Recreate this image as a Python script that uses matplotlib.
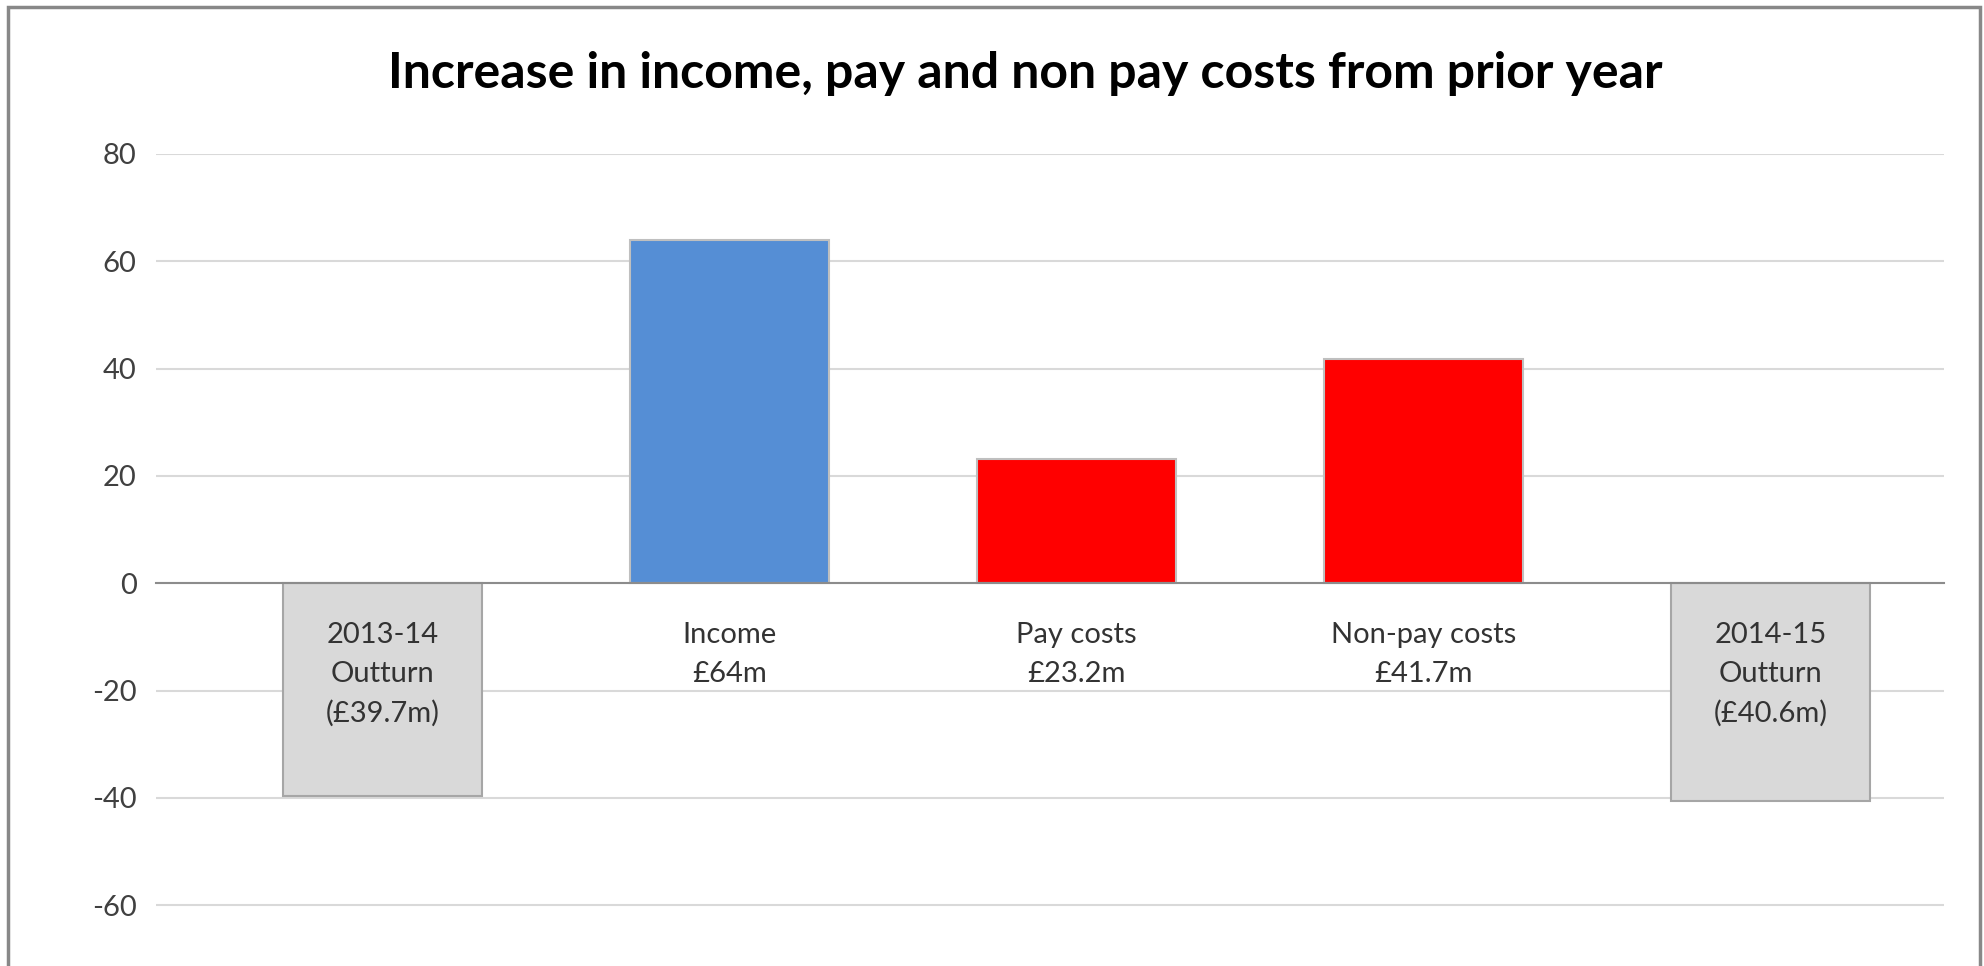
import matplotlib.pyplot as plt
from matplotlib.patches import Rectangle

# values (GBP millions)
categorias = ["2013-14\nOutturn\n(£39.7m)", "Income\n£64m", "Pay costs\n£23.2m",
              "Non-pay costs\n£41.7m", "2014-15\nOutturn\n(£40.6m)"]
valores = [-39.7, 64, 23.2, 41.7, -40.6]
cores = ["#d9d9d9", "#558ed5", "#ff0000", "#ff0000", "#d9d9d9"]
bordas = ["#a6a6a6", "#bfbfbf", "#bfbfbf", "#bfbfbf", "#a6a6a6"]
y_ticks = [-60, -40, -20, 0, 20, 40, 60, 80]

TITULO = "Increase in income, pay and non pay costs from prior year"
FONTE = ["Lato", "DejaVu Sans"]

plt.rcParams["font.family"] = FONTE
plt.rcParams["axes.unicode_minus"] = False

fig = plt.figure(figsize=(19.84, 9.66), dpi=100)
ax = fig.add_axes([156 / 1984, 0.0, (1944 - 156) / 1984, 1 - 154 / 966])

x = list(range(len(valores)))
ax.bar(x, valores, width=0.573, color=cores, edgecolor=bordas, linewidth=1.5, zorder=2)

ax.set_ylim(-71.35, 80)
ax.set_xlim(-0.654, 4.5)
ax.set_yticks(y_ticks)
ax.tick_params(axis="y", length=0, pad=14, labelsize=21, labelcolor="#404040")

ax.grid(axis="y", color="#d9d9d9", linewidth=1.5, zorder=0)
ax.set_axisbelow(True)

for lado in ["top", "right", "left"]:
    ax.spines[lado].set_visible(False)
ax.spines["bottom"].set_position(("data", 0))
ax.spines["bottom"].set_color("#8c8c8c")
ax.spines["bottom"].set_linewidth(1.5)
ax.spines["bottom"].set_zorder(3)

ax.set_xticks(x)
ax.set_xticklabels(categorias, fontsize=21, color="#333333", linespacing=1.6,
                   multialignment="center")
ax.tick_params(axis="x", length=0, pad=28)
# rotulos por cima das barras cinzentas
ax.xaxis.set_zorder(5)

fig.text(0.517, 1 - 74 / 966, TITULO, ha="center", va="center",
         fontsize=36, fontweight="bold", color="black")

# moldura cinza do grafico
fig.patches.append(Rectangle((8 / 1984, -0.2), (1980 - 8) / 1984, 1.2 - 7 / 966,
                             transform=fig.transFigure, fill=False,
                             edgecolor="#888888", linewidth=2.5))

fig.savefig("out.png", dpi=100)
